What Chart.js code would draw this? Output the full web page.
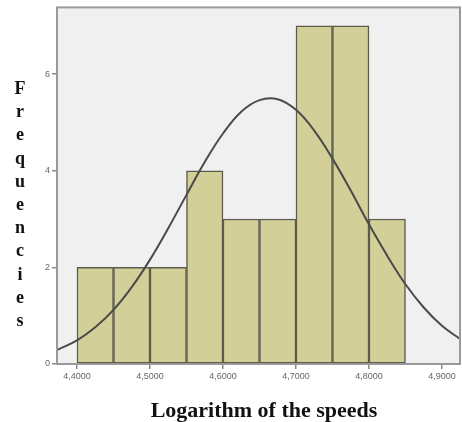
<!DOCTYPE html>
<html>
<head>
<meta charset="utf-8">
<script src="https://cdn.jsdelivr.net/npm/chart.js@4"></script>
<style>
  html, body { margin: 0; padding: 0; background: #fff; }
  #wrap { width: 462px; height: 422px; position: relative; }
</style>
</head>
<body>
<div id="wrap"><canvas id="histChart" width="462" height="422"></canvas></div>
<script>
// histogram bins (centres, width 0.05) and frequencies
const binCenters = [4.425, 4.475, 4.525, 4.575, 4.625, 4.675, 4.725, 4.775, 4.825];
const counts = [2, 2, 2, 4, 3, 3, 7, 7, 3];

// normal curve
const curveX = [4.3726, 4.4, 4.425, 4.45, 4.475, 4.5, 4.525, 4.55, 4.575, 4.6, 4.625, 4.65,
                4.675, 4.7, 4.725, 4.75, 4.775, 4.8, 4.825, 4.85, 4.875, 4.9, 4.9247];
const curveY = [0.29, 0.49, 0.76, 1.12, 1.59, 2.16, 2.81, 3.5, 4.18, 4.77, 5.22, 5.46,
                5.48, 5.26, 4.83, 4.25, 3.59, 2.89, 2.24, 1.65, 1.17, 0.79, 0.52];

const xTicks = [4.4, 4.5, 4.6, 4.7, 4.8, 4.9];
const yTicks = [0, 2, 4, 6];
const yTitle = "Frequencies";
const xTitle = "Logarithm of the speeds";

// plot background, box and the two titles
const decor = {
  id: "decor",
  beforeDraw(chart) {
    const { ctx, chartArea: a } = chart;
    ctx.save();
    ctx.fillStyle = "#f0f0f0";
    ctx.fillRect(a.left, a.top, a.right - a.left, a.bottom - a.top);
    ctx.restore();
  },
  afterDraw(chart) {
    const { ctx, chartArea: a } = chart;
    ctx.save();
    ctx.strokeStyle = "#9a9a9a";
    ctx.lineWidth = 2;
    ctx.strokeRect(a.left, a.top, a.right - a.left, a.bottom - a.top);

    ctx.fillStyle = "#111";
    ctx.textAlign = "center";
    ctx.textBaseline = "alphabetic";
    ctx.font = "bold 18px 'Liberation Serif', 'Times New Roman', serif";
    yTitle.split("").forEach((ch, i) => {
      ctx.fillText(ch, 20, 94 + i * 23.2);
    });
    ctx.font = "bold 22px 'Liberation Serif', 'Times New Roman', serif";
    ctx.fillText(xTitle, 264, 417);
    ctx.restore();
  }
};

new Chart(document.getElementById("histChart"), {
  data: {
    datasets: [
      {
        type: "line",
        data: curveX.map((x, i) => ({ x, y: curveY[i] })),
        borderColor: "#4a4a4a",
        borderWidth: 2,
        pointRadius: 0,
        tension: 0.4,
        fill: false,
        order: 0
      },
      {
        type: "bar",
        data: binCenters.map((x, i) => ({ x, y: counts[i] })),
        backgroundColor: "#d3cf98",
        borderColor: "#5c5c4c",
        borderWidth: 1.5,
        borderSkipped: false,
        barPercentage: 1,
        categoryPercentage: 1,
        order: 1
      }
    ]
  },
  options: {
    responsive: false,
    animation: false,
    layout: { padding: { top: 7, right: 2, left: 0, bottom: 0 } },
    plugins: { legend: { display: false }, tooltip: { enabled: false } },
    scales: {
      x: {
        type: "linear",
        min: 4.3726,
        max: 4.9247,
        offset: false,
        afterBuildTicks: s => { s.ticks = xTicks.map(v => ({ value: v })); },
        afterFit: s => { s.height = 58; },
        border: { display: false },
        grid: { offset: false, drawOnChartArea: false, drawTicks: true, tickLength: 5, color: "#8a8a8a", lineWidth: 1.5 },
        ticks: {
          color: "#666",
          font: { family: "'Liberation Sans', Arial, sans-serif", size: 9 },
          padding: 2,
          maxRotation: 0,
          callback: v => v.toFixed(4).replace(".", ",")
        }
      },
      y: {
        min: 0,
        max: 7.38,
        afterBuildTicks: s => { s.ticks = yTicks.map(v => ({ value: v })); },
        afterFit: s => { s.width = 57; },
        border: { display: false },
        grid: { drawOnChartArea: false, drawTicks: true, tickLength: 5, color: "#8a8a8a", lineWidth: 1.5 },
        ticks: {
          color: "#666",
          font: { family: "'Liberation Sans', Arial, sans-serif", size: 9 },
          padding: 2
        }
      }
    }
  },
  plugins: [decor]
});
</script>
</body>
</html>
